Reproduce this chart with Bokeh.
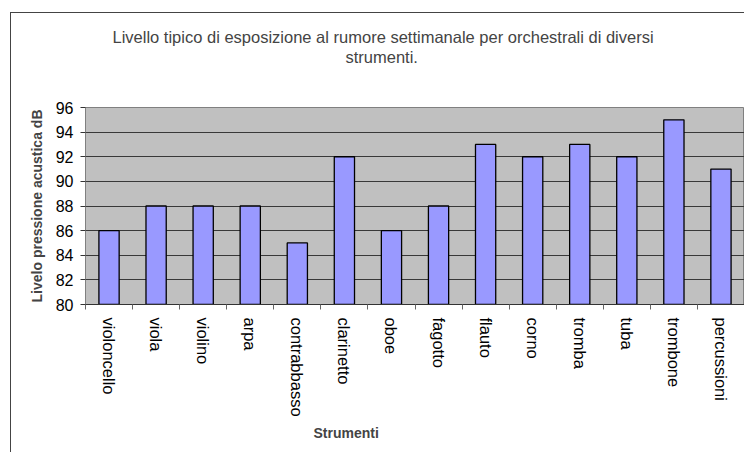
import math
from bokeh.plotting import figure
from bokeh.models import FixedTicker, Title, ColumnDataSource, Range1d
from bokeh.embed import file_html
from bokeh.resources import INLINE

# ---- data ----
strumenti = ["violoncello", "viola", "violino", "arpa", "contrabbasso", "clarinetto",
             "oboe", "fagotto", "flauto", "corno", "tromba", "tuba", "trombone", "percussioni"]
livello_db = [86, 88, 88, 88, 85, 92, 86, 88, 93, 92, 93, 92, 95, 91]
y_tick_values = [80, 82, 84, 86, 88, 90, 92, 94, 96]
title_line1 = "Livello tipico di esposizione al rumore settimanale per orchestrali di diversi"
title_line2 = "strumenti."
x_label = "Strumenti"
y_label = "Livelo pressione acustica dB"

n = len(strumenti)
positions = list(range(n))
src = ColumnDataSource(dict(x=positions, top=livello_db, name=strumenti))

FONT = "Liberation Sans"

p = figure(width=744, height=452, output_backend="svg", toolbar_location=None,
           x_range=Range1d(-0.5, n - 0.5),
           y_range=Range1d(y_tick_values[0], y_tick_values[-1]),
           min_border_left=85, min_border_right=0, min_border_top=107, min_border_bottom=148,
           title=None)

p.styles = {
    "background": "linear-gradient(#444,#444) 10px 12px / 100% 1px no-repeat, "
                  "linear-gradient(#444,#444) 10px 12px / 1px 100% no-repeat, white"
}
p.border_fill_alpha = 0
p.background_fill_color = "#c0c0c0"
p.outline_line_color = "#808080"

p.vbar(x="x", top="top", bottom=y_tick_values[0], width=0.43, source=src,
       fill_color="#9999ff", line_color="black", line_width=1.3)

# y axis
p.yaxis.ticker = FixedTicker(ticks=y_tick_values)
p.yaxis.axis_label = y_label
p.yaxis.axis_label_text_font = FONT
p.yaxis.axis_label_text_font_style = "bold"
p.yaxis.axis_label_text_font_size = "14px"
p.yaxis.axis_label_standoff = 8
p.yaxis.major_label_text_font = FONT
p.yaxis.major_label_text_font_size = "16px"
p.yaxis.major_label_text_color = "black"
p.yaxis.major_tick_out = 5
p.yaxis.major_tick_in = 0
p.yaxis.minor_tick_line_color = None
p.yaxis.axis_line_color = "#808080"
p.yaxis.major_tick_line_color = "#333333"
p.yaxis.major_label_standoff = 7

# x axis
boundaries = [i - 0.5 for i in range(n + 1)]
p.xaxis.ticker = FixedTicker(ticks=positions, minor_ticks=boundaries)
p.xaxis.major_label_overrides = {i: s for i, s in zip(positions, strumenti)}
p.xaxis.major_label_orientation = -math.pi / 2
p.xaxis.major_label_text_font = FONT
p.xaxis.major_label_text_font_size = "16.5px"
p.xaxis.major_label_text_color = "black"
p.xaxis.major_label_standoff = 8
p.xaxis.major_tick_out = 0
p.xaxis.major_tick_in = 0
p.xaxis.minor_tick_out = 5
p.xaxis.minor_tick_in = 0
p.xaxis.minor_tick_line_color = "#666666"
p.xaxis.axis_line_color = "#333333"

p.xgrid.grid_line_color = None
p.ygrid.grid_line_color = "#383838"
p.ygrid.grid_line_width = 1

# titles (added first = closest to the frame)
p.add_layout(Title(text=" ", align="left", standoff=24,
                   text_font=FONT, text_font_size="14px"), "above")
p.add_layout(Title(text=title_line2, align="left", offset=260, standoff=0,
                   text_font=FONT, text_font_size="16.5px", text_font_style="normal"), "above")
p.add_layout(Title(text=title_line1, align="left", offset=27, standoff=0,
                   text_font=FONT, text_font_size="16.5px", text_font_style="normal"), "above")
p.add_layout(Title(text=x_label, align="left", offset=228, standoff=6,
                   text_font=FONT, text_font_size="14px", text_font_style="bold"), "below")

open("out.html", "w").write(file_html(p, INLINE))
